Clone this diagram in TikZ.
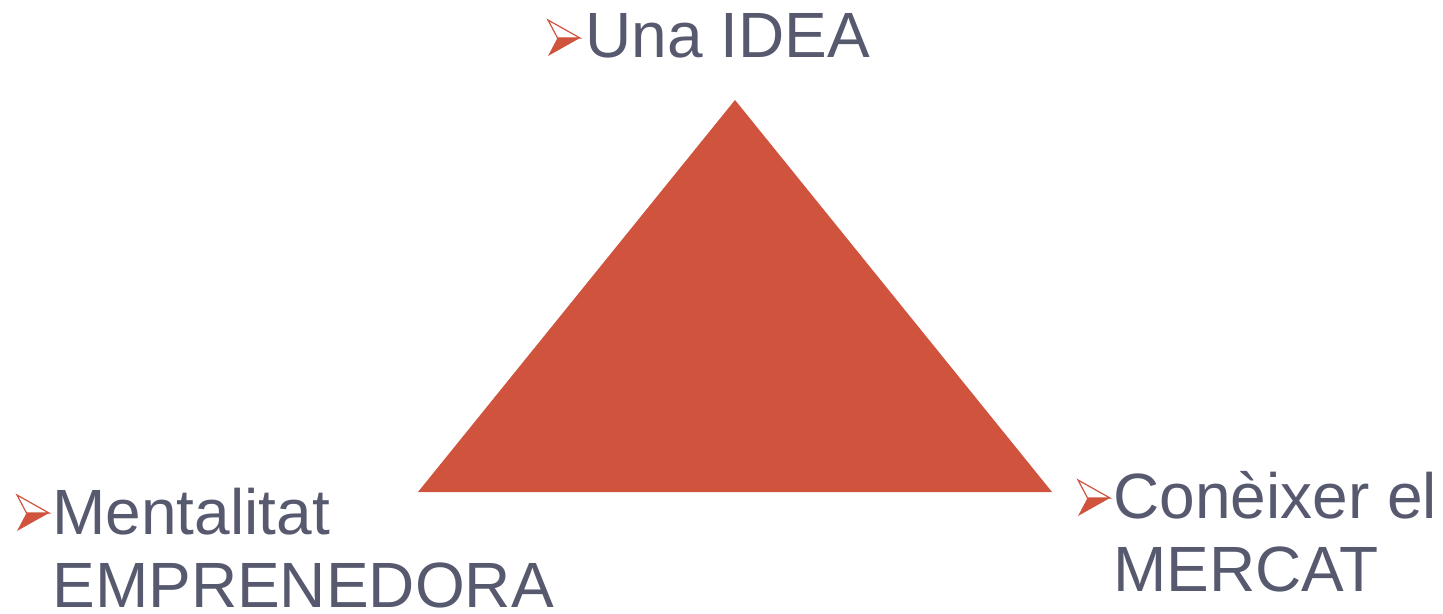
\documentclass[tikz,border=0pt]{standalone}
\usepackage{fontspec}
\setmainfont{Liberation Sans}
\usepackage{tikz}
\usetikzlibrary{positioning,calc}
\definecolor{trired}{RGB}{208,84,61}
\definecolor{labgray}{RGB}{87,89,111}
\tikzset{
  labtext/.style={anchor=base west,inner sep=0pt,align=left,text=labgray,
    font=\fontsize{32}{36.5}\selectfont},
  arrowbul/.pic={
    \draw[trired,line width=0.6pt,line join=miter] (0,0) -- (32,18) -- (9.5,18) -- cycle;
    \fill[trired] (9.5,18) -- (32,18) -- (0,36) -- cycle;
  }
}
\begin{document}
\begin{tikzpicture}[x=0.5pt,y=-0.5pt]
\useasboundingbox (0,0) rectangle (1443,614);
\fill[trired] (735,100) coordinate (apex) -- (1052,492) coordinate (right)
  -- (418,492) coordinate (left) -- cycle;
\node[labtext] (idea) at (585,58) {Una IDEA};
\node[labtext] (mental) at (52,607) {Mentalitat\\EMPRENEDORA};
\node[labtext] (mercat) at (1113,591) {Conèixer el\\MERCAT};
\pic at ($(idea.base west)+(-37,-38)$) {arrowbul};
\pic at ($(mental.base west)+(-35,-112)$) {arrowbul};
\pic at ($(mercat.base west)+(-35,-111)$) {arrowbul};
\end{tikzpicture}
\end{document}
